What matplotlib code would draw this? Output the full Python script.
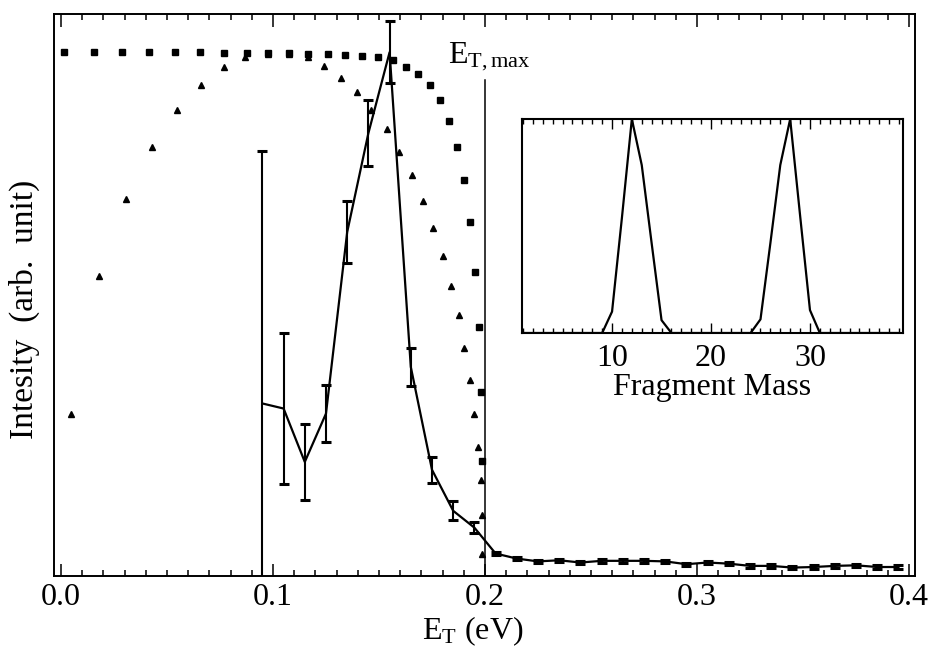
import numpy as np
import matplotlib
matplotlib.use("Agg")
import matplotlib.pyplot as plt
from matplotlib.ticker import MultipleLocator, FixedLocator

plt.rcParams['font.family'] = ['Liberation Serif', 'DejaVu Serif']
plt.rcParams['mathtext.fontset'] = 'custom'
plt.rcParams['mathtext.rm'] = 'Liberation Serif'
plt.rcParams['mathtext.it'] = 'Liberation Serif:italic'

# square markers (upper curve)
sq_x = [0.0014, 0.0156, 0.0288, 0.0415, 0.0538, 0.0656, 0.0769, 0.0876, 0.0978,
        0.1075, 0.1167, 0.1261, 0.1340, 0.1420, 0.1495, 0.1566, 0.1627, 0.1684,
        0.1741, 0.1788, 0.1832, 0.1867, 0.1901, 0.1929, 0.1953, 0.1972, 0.1980,
        0.1987]
sq_y = [0.932, 0.932, 0.932, 0.932, 0.932, 0.932, 0.931, 0.930, 0.930,
        0.930, 0.929, 0.929, 0.927, 0.926, 0.924, 0.918, 0.906, 0.893,
        0.874, 0.847, 0.810, 0.764, 0.705, 0.630, 0.541, 0.443, 0.328,
        0.205]

# triangle markers
tri_x = [0.0046, 0.0181, 0.0307, 0.0431, 0.0549, 0.0660, 0.0769, 0.0868, 0.0976,
         0.1075, 0.1167, 0.1241, 0.1321, 0.1398, 0.1462, 0.1536, 0.1594, 0.1654,
         0.1709, 0.1756, 0.1800, 0.1840, 0.1877, 0.1901, 0.1929, 0.1950, 0.1968,
         0.1980, 0.1984, 0.1987]
tri_y = [0.289, 0.534, 0.670, 0.763, 0.829, 0.874, 0.905, 0.924, 0.929,
         0.929, 0.924, 0.907, 0.886, 0.861, 0.829, 0.795, 0.755, 0.714,
         0.667, 0.620, 0.569, 0.516, 0.464, 0.406, 0.349, 0.289, 0.230,
         0.171, 0.109, 0.040]

# measured distribution with error bars
et = [0.095, 0.105, 0.115, 0.125, 0.135, 0.145, 0.155, 0.165, 0.175, 0.185,
      0.195, 0.205, 0.215, 0.225, 0.235, 0.245, 0.255, 0.265, 0.275, 0.285,
      0.295, 0.305, 0.315, 0.325, 0.335, 0.345, 0.355, 0.365, 0.375, 0.385,
      0.395]
inten = [0.307, 0.298, 0.203, 0.289, 0.612, 0.788, 0.932, 0.372, 0.189, 0.116,
         0.086, 0.040, 0.031, 0.026, 0.028, 0.024, 0.027, 0.027, 0.027, 0.026,
         0.021, 0.024, 0.022, 0.018, 0.018, 0.015, 0.016, 0.018, 0.019, 0.016,
         0.016]
err = [0.45, 0.135, 0.067, 0.05, 0.055, 0.059, 0.055, 0.034, 0.023, 0.017,
       0.010, 0.003, 0.003, 0.003, 0.003, 0.003, 0.003, 0.003, 0.003, 0.003,
       0.003, 0.003, 0.003, 0.003, 0.003, 0.003, 0.003, 0.003, 0.003, 0.003,
       0.003]

et_max = 0.2

# inset: fragment mass spectrum
mass = list(range(1, 40))
mass_int = [0, 0, 0, 0, 0, 0, 0, 0, 0, 0.10, 0.54, 1.0, 0.785, 0.42, 0.06, 0,
            0, 0, 0, 0, 0, 0, 0, 0, 0.064, 0.42, 0.785, 1.0, 0.55, 0.107, 0,
            0, 0, 0, 0, 0, 0, 0, 0]

fs = 23

fig = plt.figure(figsize=(9.29, 6.48), dpi=100)
ax = fig.add_axes([0.0581, 0.1111, 0.9268, 0.8673])

ax.plot(sq_x, sq_y, 's', color='black', ms=4.2)
ax.plot(tri_x, tri_y, '^', color='black', ms=3.8)
ax.errorbar(et, inten, yerr=err, color='black', lw=1.6, elinewidth=1.5,
            capsize=3.4, capthick=2.2)
ax.plot([et_max, et_max], [0, 0.883], color='black', lw=1.1)
ax.text(0.1825, 0.913, r'$\mathrm{E_{T,max}}$', fontsize=fs)

ax.set_xlim(-0.0033, 0.4028)
ax.set_ylim(0, 1)
ax.xaxis.set_major_locator(MultipleLocator(0.1))
ax.xaxis.set_minor_locator(MultipleLocator(0.01))
ax.xaxis.set_major_formatter(plt.FuncFormatter(lambda v, p: '%.1f' % v))
ax.set_yticks([])
ax.tick_params(axis='x', which='both', direction='in', top=True,
               labelsize=fs, pad=5, width=1.1)
ax.tick_params(axis='x', which='major', length=9)
ax.tick_params(axis='x', which='minor', length=4)
for s in ax.spines.values():
    s.set_linewidth(1.4)

ax.set_xlabel(r'$\mathrm{E_T}$ (eV)', fontsize=fs)
ax.xaxis.set_label_coords(0.486, -0.068)
ax.set_ylabel('Intesity  (arb.  unit)', fontsize=24)
ax.yaxis.set_label_coords(-0.016, 0.475)

ins = fig.add_axes([0.5619, 0.4861, 0.4101, 0.3302])
ins.plot(mass, mass_int, color='black', lw=1.6)
ins.set_xlim(0.9, 39.4)
ins.set_ylim(0, 1.0)
ins.xaxis.set_major_locator(FixedLocator([10, 20, 30]))
ins.xaxis.set_minor_locator(MultipleLocator(1))
ins.set_yticks([])
ins.tick_params(axis='x', which='both', direction='in', top=True,
                labelsize=fs, pad=8, width=1.0)
ins.tick_params(axis='x', which='major', length=7)
ins.tick_params(axis='x', which='minor', length=3.5)
for s in ins.spines.values():
    s.set_linewidth(1.5)
ins.set_xlabel('Fragment Mass', fontsize=fs, labelpad=0)

fig.savefig('out.png', dpi=100)
